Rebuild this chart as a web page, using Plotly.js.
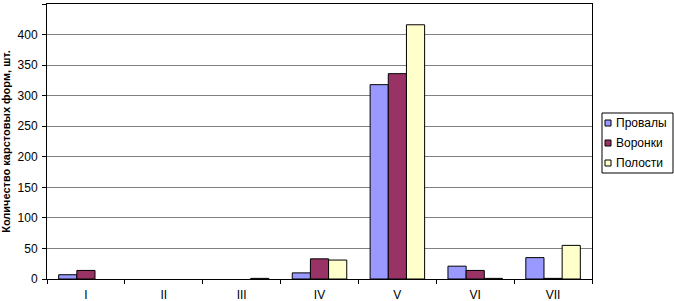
<!DOCTYPE html>
<html><head><meta charset="utf-8">
<script src="https://cdn.plot.ly/plotly-3.0.1.min.js"></script>
<style>html,body{margin:0;padding:0;background:#fff}#chart{width:674px;height:301px}</style>
</head><body><div id="chart"></div>
<script>
const categories = ["I","II","III","IV","V","VI","VII"];
const provaly = [7, null, null, 10, 318, 21, 35];
const voronki = [14, null, null, 33, 336, 14, 1];
const polosti = [null, null, 1, 31, 416, 1, 55];
const seriesNames = ["Провалы","Воронки","Полости"];
const colors = ["#9999FF","#993366","#FFFFCC"];
const yTicks = [0,50,100,150,200,250,300,350,400,450];

const W = 674, H = 301, M = {l:47, r:82, t:4, b:22};
const pw = W - M.l - M.r, ph = H - M.t - M.b;
const px = x => (x - M.l) / pw;
const py = y => (H - M.b - y) / ph;

const data = [provaly, voronki, polosti].map((v,i)=>({
  type:'bar', x:categories, y:v, name:seriesNames[i],
  marker:{color:colors[i], line:{color:'#000', width:1}}
}));

const shapes = [{type:'rect', xref:'paper', yref:'paper', x0:px(602), x1:px(673), y0:py(173), y1:py(113),
  line:{color:'#000', width:1}, fillcolor:'#fff', layer:'above'}];
const annotations = [];
seriesNames.forEach((n,i)=>{
  const cy = 123 + i*20;
  shapes.push({type:'rect', xref:'paper', yref:'paper', x0:px(605), x1:px(611), y0:py(cy+3), y1:py(cy-3),
    line:{color:'#000', width:1}, fillcolor:colors[i], layer:'above'});
  annotations.push({xref:'paper', yref:'paper', x:px(614), y:py(cy), xanchor:'left', yanchor:'middle',
    text:n, showarrow:false, font:{size:12}});
});

const layout = {
  width:W, height:H,
  margin:{l:M.l, r:M.r, t:M.t, b:M.b, pad:0},
  paper_bgcolor:'#fff', plot_bgcolor:'#fff',
  font:{family:'Liberation Sans, Arial, sans-serif', size:12, color:'#000'},
  barmode:'group', bargap:0.3, bargroupgap:0,
  xaxis:{showline:true, linecolor:'#000', linewidth:1, mirror:true,
    ticks:'outside', ticklen:4, tickcolor:'#000', tickson:'boundaries', ticklabelstandoff:5,
    showgrid:false, tickfont:{size:12}},
  yaxis:{range:[0,450], tickvals:yTicks, showline:true, linecolor:'#000', linewidth:1, mirror:true,
    ticks:'outside', ticklen:4, tickcolor:'#000', showgrid:true, gridcolor:'#808080', gridwidth:1,
    zeroline:false, tickfont:{size:12}, ticklabelstandoff:2,
    title:{text:'Количество карстовых форм, шт.', font:{size:11, weight:'bold'}, standoff:6}},
  showlegend:false,
  shapes:shapes, annotations:annotations
};
Plotly.newPlot('chart', data, layout, {staticPlot:true, displayModeBar:false});
</script></body></html>
